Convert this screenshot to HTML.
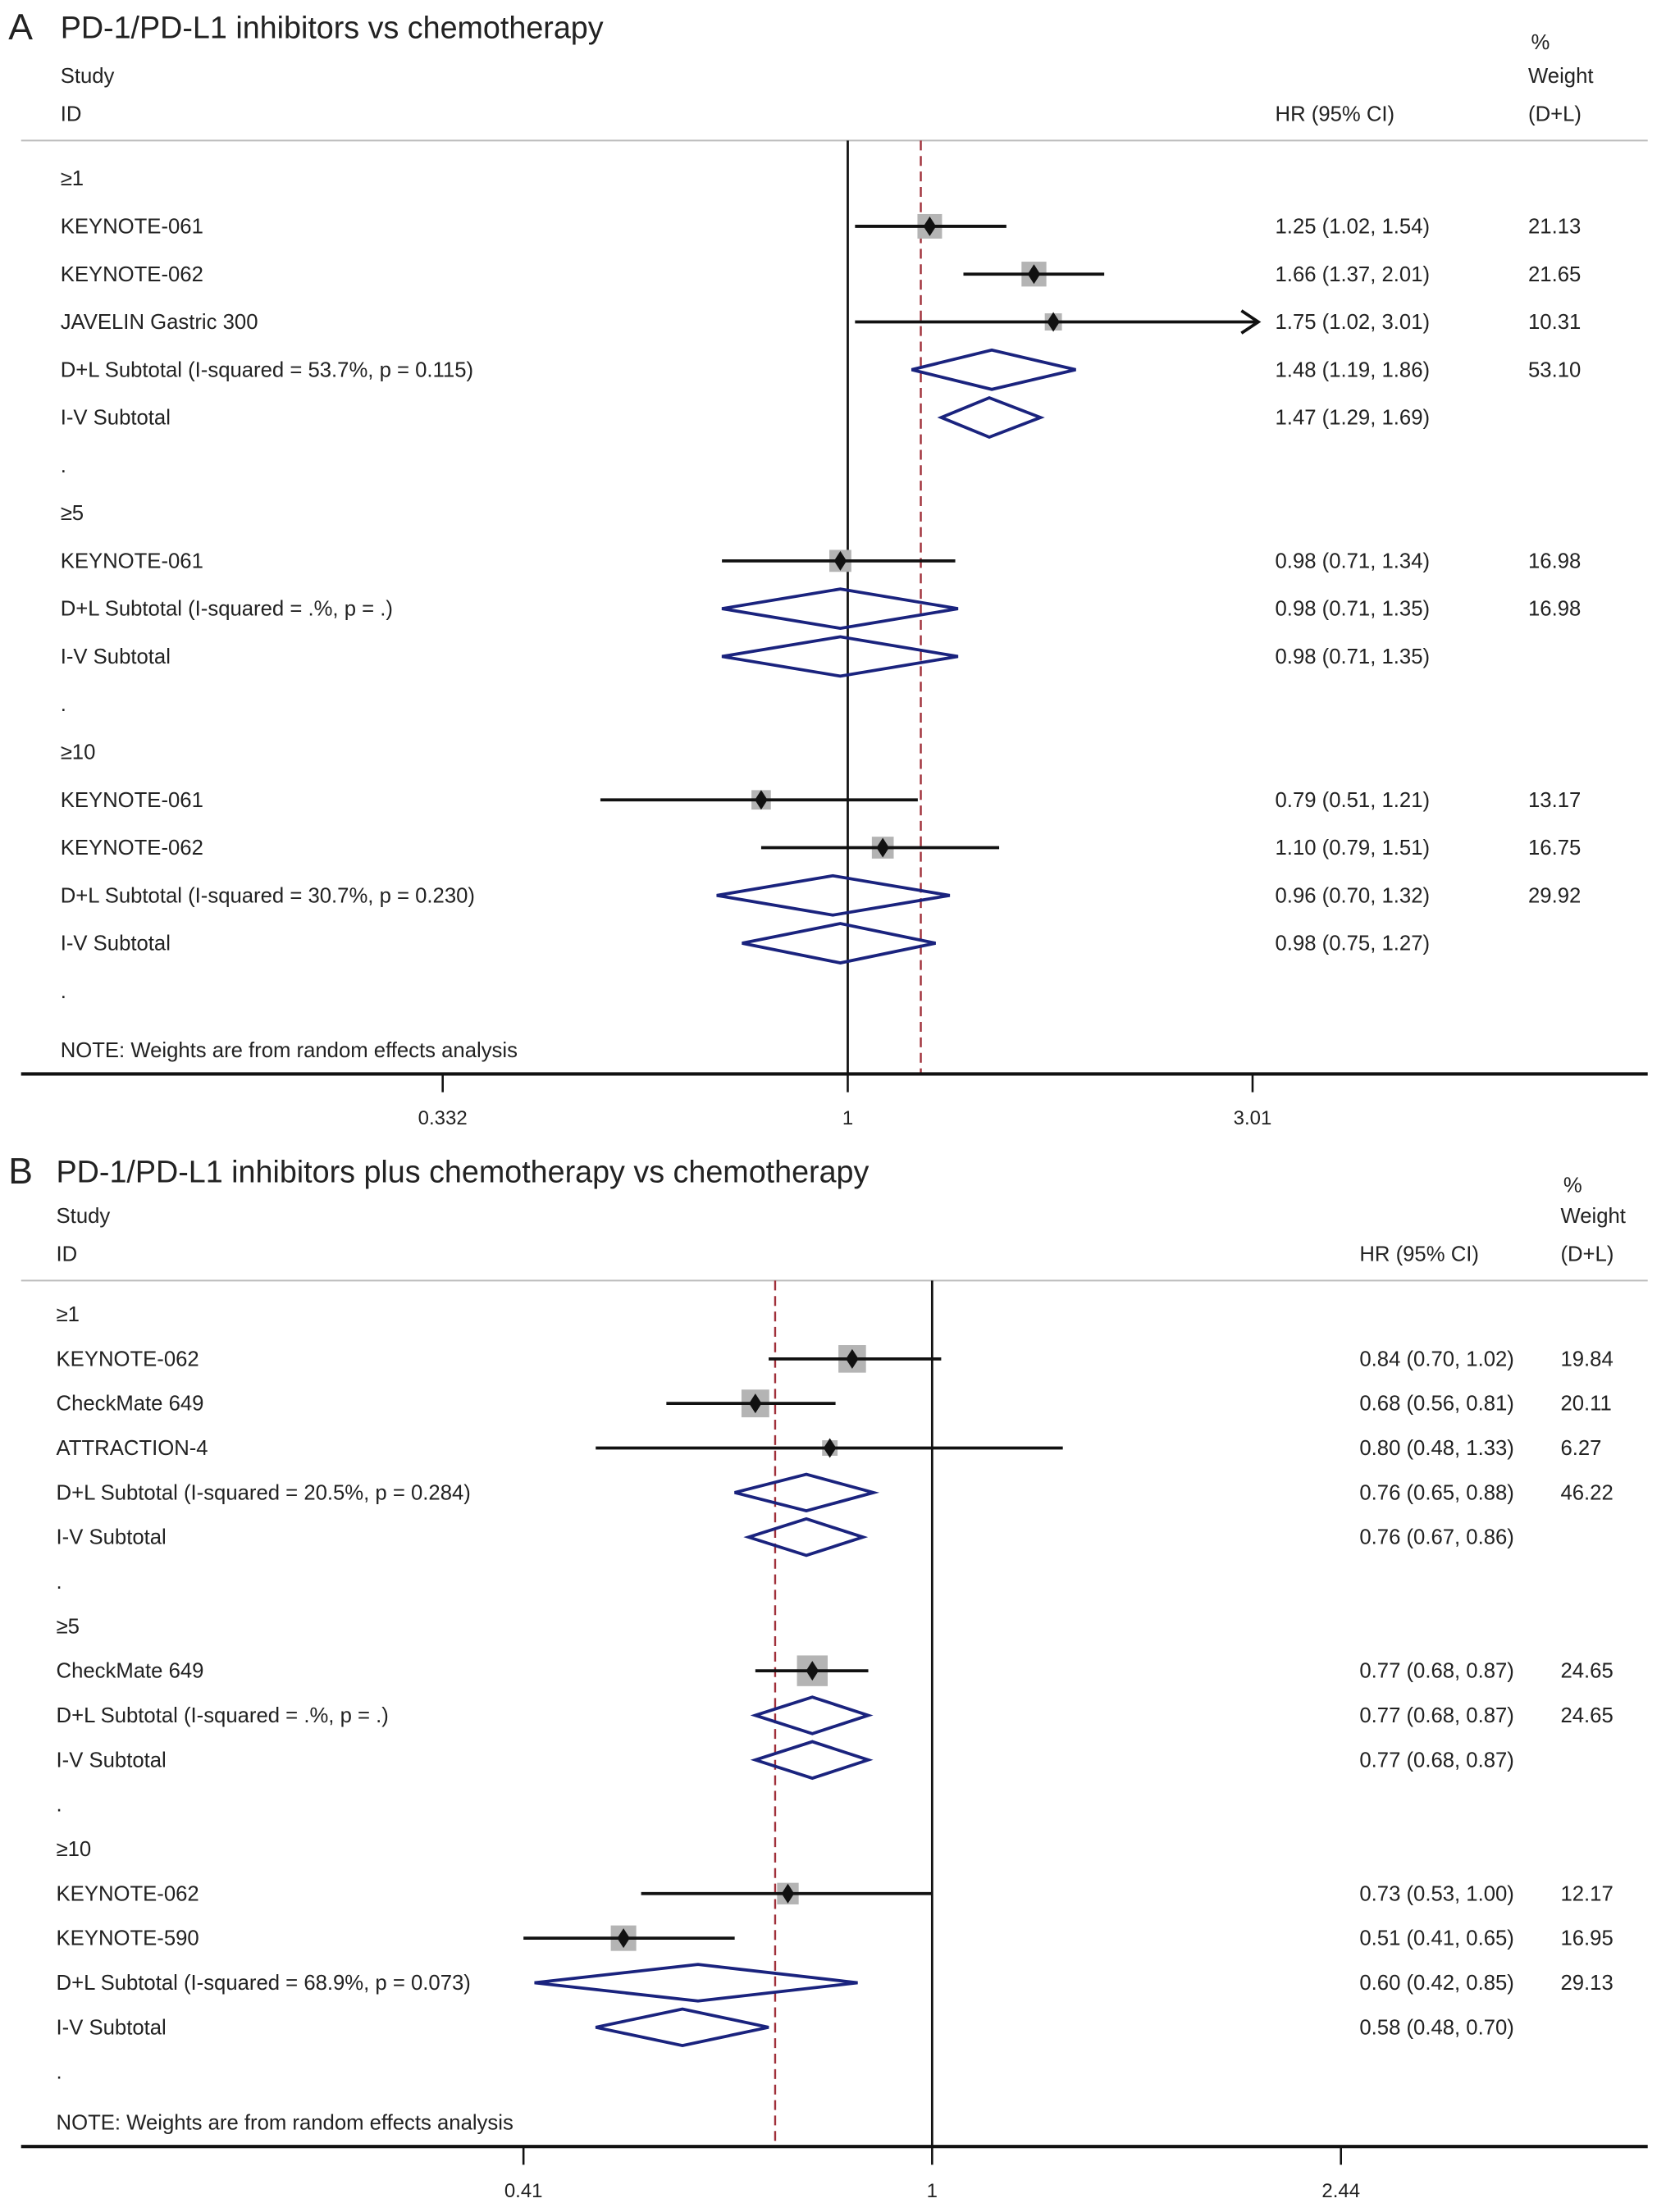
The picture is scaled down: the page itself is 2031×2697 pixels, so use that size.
<!DOCTYPE html>
<html><head><meta charset="utf-8"><style>
html,body{margin:0;padding:0;background:#fff;}
svg{display:block;}
text{font-family:"Liberation Sans",sans-serif;fill:#222;}
</style></head><body>
<svg id="chart" width="2031" height="2697" viewBox="0 0 1185 1573.6" preserveAspectRatio="none" xmlns="http://www.w3.org/2000/svg"></svg>
<script>
// ---------- Panel A data ----------
const aLabels = ["≥1","KEYNOTE-061","KEYNOTE-062","JAVELIN Gastric 300","D+L Subtotal  (I-squared = 53.7%, p = 0.115)","I-V Subtotal",".","≥5","KEYNOTE-061","D+L Subtotal  (I-squared = .%, p = .)","I-V Subtotal",".","≥10","KEYNOTE-061","KEYNOTE-062","D+L Subtotal  (I-squared = 30.7%, p = 0.230)","I-V Subtotal","."];
const aTypes = ["h","s","s","s","d","d","b","h","s","d","d","b","h","s","s","d","d","b"];
const aHR = [null,1.25,1.66,1.75,1.48,1.47,null,null,0.98,0.98,0.98,null,null,0.79,1.10,0.96,0.98,null];
const aLo = [null,1.02,1.37,1.02,1.19,1.29,null,null,0.71,0.71,0.71,null,null,0.51,0.79,0.70,0.75,null];
const aHi = [null,1.54,2.01,3.01,1.86,1.69,null,null,1.34,1.35,1.35,null,null,1.21,1.51,1.32,1.27,null];
const aWeights = [null,21.13,21.65,10.31,53.10,null,null,null,16.98,16.98,null,null,null,13.17,16.75,29.92,null,null];
const aTicks = [0.332,1,3.01];
const aTickLabels = ["0.332","1","3.01"];
const aOverall = 1.22;
// ---------- Panel B data ----------
const bLabels = ["≥1","KEYNOTE-062","CheckMate 649","ATTRACTION-4","D+L Subtotal  (I-squared = 20.5%, p = 0.284)","I-V Subtotal",".","≥5","CheckMate 649","D+L Subtotal  (I-squared = .%, p = .)","I-V Subtotal",".","≥10","KEYNOTE-062","KEYNOTE-590","D+L Subtotal  (I-squared = 68.9%, p = 0.073)","I-V Subtotal","."];
const bTypes = ["h","s","s","s","d","d","b","h","s","d","d","b","h","s","s","d","d","b"];
const bHR = [null,0.84,0.68,0.80,0.76,0.76,null,null,0.77,0.77,0.77,null,null,0.73,0.51,0.60,0.58,null];
const bLo = [null,0.70,0.56,0.48,0.65,0.67,null,null,0.68,0.68,0.68,null,null,0.53,0.41,0.42,0.48,null];
const bHi = [null,1.02,0.81,1.33,0.88,0.86,null,null,0.87,0.87,0.87,null,null,1.00,0.65,0.85,0.70,null];
const bWeights = [null,19.84,20.11,6.27,46.22,null,null,null,24.65,24.65,null,null,null,12.17,16.95,29.13,null,null];
const bTicks = [0.41,1,2.44];
const bTickLabels = ["0.41","1","2.44"];
const bOverall = 0.71;

const NS="http://www.w3.org/2000/svg";
const svg=document.getElementById('chart');
function el(tag,attrs,parent){const e=document.createElementNS(NS,tag);for(const k in attrs)e.setAttribute(k,attrs[k]);(parent||svg).appendChild(e);return e;}
function txt(s,x,y,size,parent,anchor){const t=el('text',{x:x,y:y,'font-size':size,'text-anchor':anchor||'start'},parent);t.textContent=s;return t;}
function fmt(v){return v.toFixed(2);}

function panel(cfg){
  const g=el('g',{});
  
  
  const x=v=>cfg.x1+cfg.k*Math.log(v);
  const y=i=>cfg.y0+i*cfg.dy;
  const t1=txt(cfg.letter,6,cfg.titleY+1,26,g);
  
  
  const t2=txt(cfg.title,cfg.left,cfg.titleY,22,g);
  
  
  const hs=[["%",cfg.wx+2,cfg.hy0],["Study",cfg.left,cfg.hy1],["Weight",cfg.wx,cfg.hy1],["ID",cfg.left,cfg.hy2],["HR (95% CI)",cfg.hrx,cfg.hy2],["(D+L)",cfg.wx,cfg.hy2]];
  hs.forEach(h=>{const t=txt(h[0],h[1],h[2]+5,15,g);});
  const hl=el('line',{x1:15,x2:1172,y1:cfg.hline,y2:cfg.hline,stroke:'#bbb','stroke-width':1.2},g);
  
  
  const nl=el('line',{x1:x(1),x2:x(1),y1:cfg.hline,y2:cfg.axisY,stroke:'#111','stroke-width':1.6},g);
  
  
  const ol=el('line',{x1:x(cfg.overall),x2:x(cfg.overall),y1:cfg.hline,y2:cfg.axisY,stroke:'#a0303a','stroke-width':1.4,'stroke-dasharray':'7,4'},g);
  
  
  cfg.labels.forEach((lab,i)=>{
    const yy=y(i);
    const lt=txt(lab,cfg.left,yy+5,15,g);
    
    
    const type=cfg.types[i];
    if(type==='s'){
      const hr=cfg.hr[i],lo=cfg.lo[i],hi=cfg.hi[i];
      const side=cfg.sq*Math.sqrt(cfg.w[i]);
      const sq=el('rect',{x:x(hr)-side/2,y:yy-side/2,width:side,height:side,fill:'#b4b4b4'},g);
      
      
      let xe=x(hi); const clip=xe>=cfg.xmax;
      if(clip) xe=cfg.xarrow;
      const ci=el('line',{x1:x(lo),x2:xe,y1:yy,y2:yy,stroke:'#111','stroke-width':2.2},g);
      
      
      if(clip){const ar=el('path',{d:`M${xe-12},${yy-8} L${xe},${yy} L${xe-12},${yy+8}`,fill:'none',stroke:'#111','stroke-width':2.2},g);
        
        }
      const pt=el('path',{d:`M${x(hr)},${yy-7} L${x(hr)+4.5},${yy} L${x(hr)},${yy+7} L${x(hr)-4.5},${yy} Z`,fill:'#111'},g);
      
      
    } else if(type==='d'){
      const hr=cfg.hr[i],lo=cfg.lo[i],hi=cfg.hi[i],h=cfg.dh;
      const d=el('path',{d:`M${x(lo)},${yy} L${x(hr)},${yy-h/2} L${x(hi)},${yy} L${x(hr)},${yy+h/2} Z`,fill:'none',stroke:'#1a237e','stroke-width':2.2},g);
      
      
    }
    if(cfg.hr[i]!==null){
      const vt=txt(`${fmt(cfg.hr[i])} (${fmt(cfg.lo[i])}, ${fmt(cfg.hi[i])})`,cfg.hrx,yy+5,15,g);
      
      
    }
    if(cfg.w[i]!==null){
      const wt=txt(fmt(cfg.w[i]),cfg.wx,yy+5,15,g);
      
      
    }
  });
  const note=txt('NOTE: Weights are from random effects analysis',cfg.left,cfg.noteY+5,15,g);
  
  
  const ax=el('line',{x1:15,x2:1172,y1:cfg.axisY,y2:cfg.axisY,stroke:'#111','stroke-width':2.4},g);
  
  
  cfg.ticks.forEach((tv,j)=>{
    const tk=el('line',{x1:x(tv),x2:x(tv),y1:cfg.axisY,y2:cfg.axisY+13,stroke:'#111','stroke-width':1.5},g);
    
    
    const tl=txt(cfg.tickLabels[j],x(tv),cfg.axisY+36,14,g,'middle');
    
    
  });
}

panel({name:'panel-a',letter:'A',title:'PD-1/PD-L1 inhibitors vs chemotherapy',titleY:27,left:43,hrx:907,wx:1087,
  hy0:30,hy1:54,hy2:81,hline:100,y0:127,dy:34,noteY:747,axisY:764,x1:603,k:261.3,xmax:885,xarrow:895,sq:3.8,dh:28,
  labels:aLabels,types:aTypes,hr:aHR,lo:aLo,hi:aHi,w:aWeights,ticks:aTicks,tickLabels:aTickLabels,overall:aOverall});
panel({name:'panel-b',letter:'B',title:'PD-1/PD-L1 inhibitors plus chemotherapy vs chemotherapy',titleY:841,left:40,hrx:967,wx:1110,
  hy0:843,hy1:865,hy2:892,hline:911,y0:935,dy:31.7,noteY:1510,axisY:1527,x1:663,k:326,xmax:1172,xarrow:1172,sq:4.4,dh:26,
  labels:bLabels,types:bTypes,hr:bHR,lo:bLo,hi:bHi,w:bWeights,ticks:bTicks,tickLabels:bTickLabels,overall:bOverall});
</script>
</body></html>
